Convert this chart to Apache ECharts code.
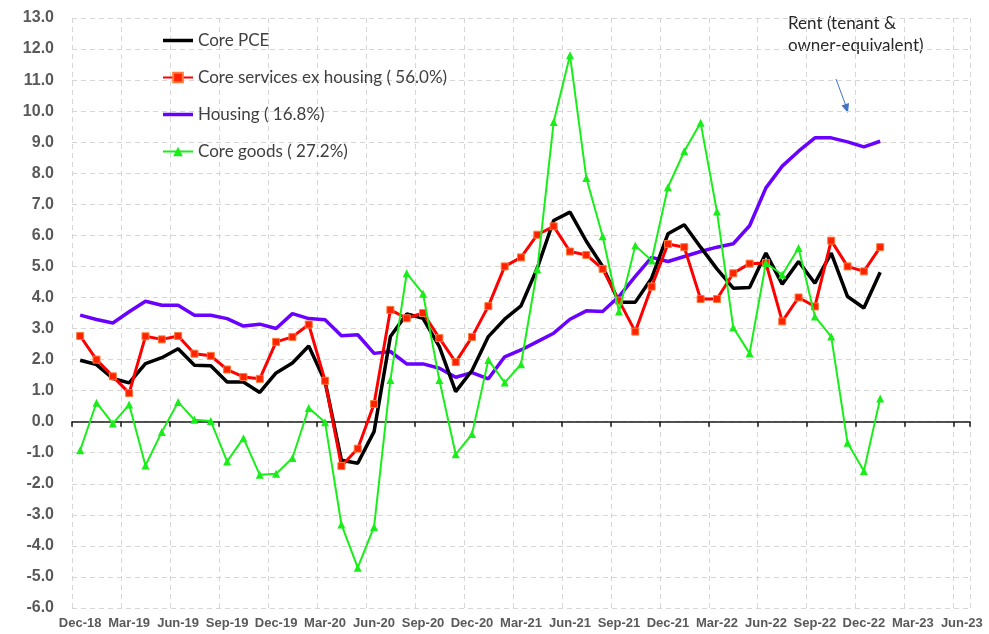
<!DOCTYPE html>
<html>
<head>
  <meta charset="UTF-8">
  <title>Core PCE components</title>
  <script src="https://cdn.jsdelivr.net/npm/echarts@6/dist/echarts.min.js"></script>
  <style>
    html, body { margin: 0; padding: 0; background: #fff; }
    #main { width: 989px; height: 634px; }
  </style>
</head>
<body>
<div id="main"></div>
<script type="text/javascript">
  // months Dec-18 .. Jun-23 (axis runs past the last data point)
  var monthNames = ['Jan', 'Feb', 'Mar', 'Apr', 'May', 'Jun', 'Jul', 'Aug', 'Sep', 'Oct', 'Nov', 'Dec'];
  var months = ['Dec-18'];
  for (var y = 19; y <= 23; y++) {
    for (var m = 0; m < 12; m++) {
      if (y === 23 && m > 5) break;
      months.push(monthNames[m] + '-' + y);
    }
  }

  // Dec-18 .. Jan-23
  var corePce = [1.98, 1.84, 1.39, 1.25, 1.87, 2.06, 2.35, 1.82, 1.80, 1.28,
    1.28, 0.94, 1.57, 1.89, 2.44, 1.29, -1.24, -1.34, -0.32, 2.74,
    3.47, 3.33, 2.42, 0.97, 1.65, 2.74, 3.30, 3.73, 4.95, 6.48,
    6.75, 5.81, 5.00, 3.85, 3.85, 4.62, 6.05, 6.34, 5.62, 4.92,
    4.30, 4.32, 5.43, 4.43, 5.16, 4.46, 5.43, 4.03, 3.66, 4.81];
  var servicesExHousing = [2.76, 2.00, 1.46, 0.92, 2.75, 2.65, 2.76, 2.19, 2.12, 1.68,
    1.44, 1.38, 2.57, 2.73, 3.13, 1.32, -1.43, -0.87, 0.57, 3.60,
    3.33, 3.50, 2.69, 1.92, 2.73, 3.72, 5.00, 5.29, 6.02, 6.29,
    5.48, 5.37, 4.92, 3.90, 2.90, 4.35, 5.72, 5.62, 3.95, 3.95,
    4.78, 5.09, 5.11, 3.23, 4.00, 3.71, 5.83, 5.00, 4.84, 5.62];
  var housing = [3.43, 3.29, 3.18, 3.54, 3.88, 3.75, 3.75, 3.43, 3.43, 3.32,
    3.08, 3.14, 3.00, 3.48, 3.32, 3.28, 2.77, 2.80, 2.20, 2.26,
    1.86, 1.86, 1.72, 1.43, 1.58, 1.38, 2.09, 2.31, 2.58, 2.85,
    3.30, 3.57, 3.55, 4.03, 4.68, 5.29, 5.16, 5.32, 5.48, 5.62,
    5.73, 6.31, 7.53, 8.23, 8.71, 9.14, 9.14, 9.01, 8.85, 9.03];
  var coreGoods = [-0.92, 0.61, -0.06, 0.55, -1.41, -0.33, 0.63, 0.06, 0.02, -1.28,
    -0.53, -1.71, -1.68, -1.17, 0.44, -0.02, -3.31, -4.70, -3.39, 1.34,
    4.78, 4.12, 1.34, -1.05, -0.40, 1.99, 1.26, 1.85, 4.91, 9.65,
    11.80, 7.85, 5.97, 3.55, 5.67, 5.19, 7.55, 8.71, 9.63, 6.77,
    3.03, 2.20, 5.11, 4.73, 5.59, 3.39, 2.74, -0.68, -1.59, 0.75];

  var seriesNames = ['Core PCE', 'Core services ex housing ( 56.0%)', 'Housing ( 16.8%)', 'Core goods ( 27.2%)'];

  var labelFont = '"Liberation Sans", Arial, sans-serif';
  var textFont = 'Lato, "Liberation Sans", sans-serif';
  var gridLine = { show: true, lineStyle: { color: '#d6d6d6', type: [5, 4], width: 1 } };
  // plain bar icon for the legend entries that have no markers
  var barIcon = 'path://M0,0 L30,0 L30,3.5 L0,3.5 Z';

  var myChart = echarts.init(document.getElementById('main'));
  var option = {
    backgroundColor: '#ffffff',
    animation: false,
    grid: { left: 72, right: 19, top: 18, bottom: 26 },
    legend: {
      orient: 'vertical',
      left: 157,
      top: 27,
      itemWidth: 30,
      itemHeight: 12,
      itemGap: 20,
      textStyle: { fontFamily: textFont, fontSize: 17, color: '#404040' },
      data: [
        { name: seriesNames[0], icon: barIcon },
        { name: seriesNames[1] },
        { name: seriesNames[2], icon: barIcon },
        { name: seriesNames[3] }
      ]
    },
    xAxis: [
      {
        type: 'category',
        data: months,
        boundaryGap: true,
        axisLine: { onZero: true, lineStyle: { color: '#1a1a1a', width: 1.5 } },
        axisTick: { show: true, interval: 2, length: 5, lineStyle: { color: '#1a1a1a', width: 1.5 } },
        axisLabel: { show: false },
        splitLine: { show: true, interval: 2, lineStyle: gridLine.lineStyle }
      },
      {
        type: 'category',
        data: months,
        position: 'bottom',
        boundaryGap: true,
        axisLine: { show: false, onZero: false },
        axisTick: { show: false },
        axisLabel: {
          interval: 2,
          margin: 9,
          fontFamily: labelFont,
          fontWeight: 'bold',
          fontSize: 13,
          color: '#595959'
        },
        splitLine: { show: false }
      }
    ],
    yAxis: {
      type: 'value',
      min: -6,
      max: 13,
      interval: 1,
      axisLine: { show: false },
      axisTick: { show: false },
      axisLabel: {
        margin: 18,
        fontFamily: labelFont,
        fontWeight: 'bold',
        fontSize: 16,
        color: '#595959',
        formatter: function (v) { return v.toFixed(1); }
      },
      splitLine: gridLine
    },
    graphic: [
      {
        type: 'text',
        left: 788,
        top: 13,
        style: {
          text: 'Rent (tenant &\nowner-equivalent)',
          font: '17px ' + textFont,
          fill: '#262626',
          lineHeight: 22
        }
      },
      {
        type: 'line',
        shape: { x1: 836, y1: 79, x2: 846, y2: 106 },
        style: { stroke: '#4472c4', lineWidth: 1 }
      },
      {
        type: 'polygon',
        shape: { points: [[848, 113], [841.5, 105.5], [849, 103]] },
        style: { fill: '#4472c4' }
      }
    ],
    series: [
      {
        name: seriesNames[0],
        type: 'line',
        data: corePce,
        symbol: 'none',
        lineStyle: { color: '#000000', width: 3.5 },
        itemStyle: { color: '#000000' },
        z: 3
      },
      {
        name: seriesNames[1],
        type: 'line',
        data: servicesExHousing,
        symbol: 'rect',
        symbolSize: 7,
        lineStyle: { color: '#ff0000', width: 3 },
        itemStyle: { color: '#ff2200', borderColor: '#ff7a3a', borderWidth: 1 },
        z: 4
      },
      {
        name: seriesNames[2],
        type: 'line',
        data: housing,
        symbol: 'none',
        lineStyle: { color: '#6a00ff', width: 3.5 },
        itemStyle: { color: '#6a00ff' },
        z: 2
      },
      {
        name: seriesNames[3],
        type: 'line',
        data: coreGoods,
        symbol: 'triangle',
        symbolSize: 8,
        lineStyle: { color: '#1aee1a', width: 2 },
        itemStyle: { color: '#1aee1a' },
        z: 5
      }
    ]
  };
  myChart.setOption(option);
</script>
</body>
</html>
